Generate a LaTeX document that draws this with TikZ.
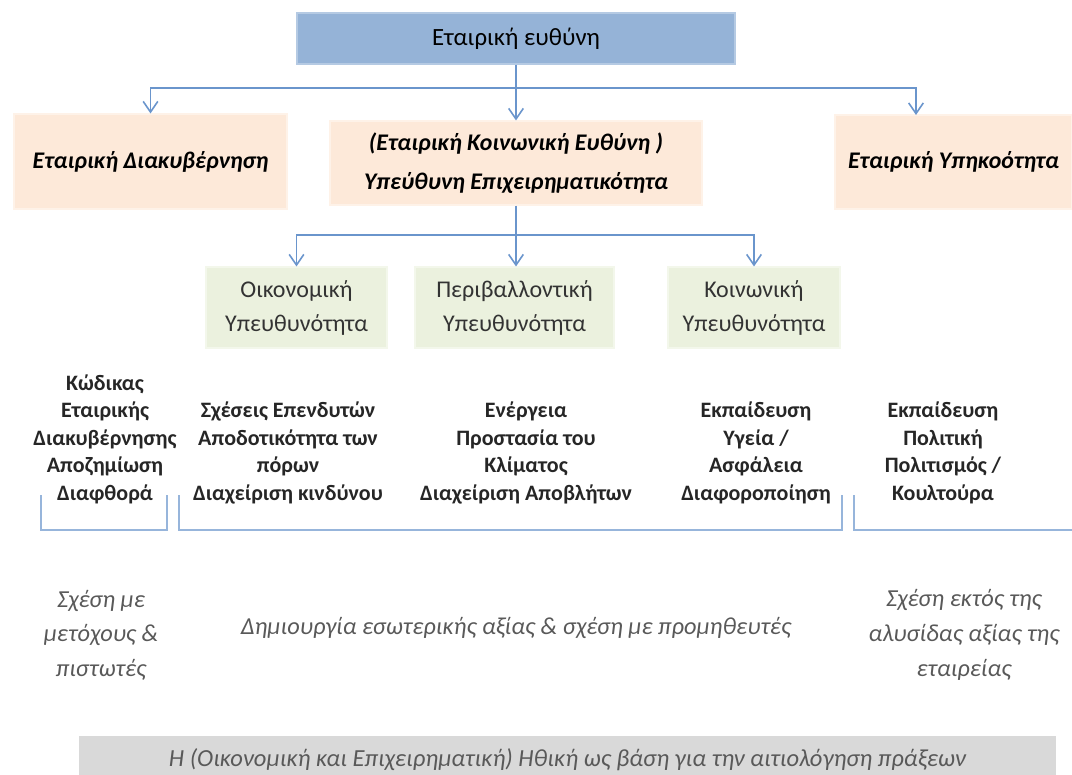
\documentclass[tikz,border=0pt]{standalone}
\usepackage{fontspec}
\setmainfont{Carlito}
\usetikzlibrary{arrows.meta}

\definecolor{rootblue}{HTML}{95B3D7}
\definecolor{linkblue}{HTML}{6A95CC}
\definecolor{peach}{HTML}{FDE9D9}
\definecolor{sage}{HTML}{EBF1DE}
\definecolor{stone}{HTML}{D9D9D9}
\definecolor{notegray}{HTML}{595959}

\tikzset{
  rootbox/.style={fill=rootblue, draw=rootblue!70!white, line width=0.8pt,
    minimum width=328.5pt, minimum height=38.25pt,
    font=\fontsize{18.6}{22}\selectfont},
  peachbox/.style={fill=peach, draw=peach!60!white, line width=0.8pt, align=center,
    font=\fontsize{17.9}{29}\selectfont\bfseries\itshape},
  sagebox/.style={fill=sage, draw=sage!60!white, line width=0.8pt, align=center,
    minimum height=60.75pt, text=black!80,
    font=\fontsize{18}{25.5}\selectfont},
  detail/.style={align=center, text=black!85,
    font=\fontsize{16.5}{20.6}\selectfont\bfseries},
  note/.style={align=center, text=notegray,
    font=\fontsize{18.3}{26}\selectfont\itshape},
  link/.style={draw=linkblue, line width=1.2pt},
  tip/.style={-{Straight Barb[length=8pt,width=11pt]}},
  bracket/.style={draw=linkblue!70!white, line width=1.2pt}
}

\begin{document}
\begin{tikzpicture}[x=0.75pt, y=-0.75pt]
\useasboundingbox (0,0) rectangle (1072,775);

% top level
\node[rootbox] (root) at (516,38.5) {Εταιρική ευθύνη};

\node[peachbox, minimum width=204.75pt, minimum height=71.25pt] (gov) at (150.5,161.5)
  {Εταιρική Διακυβέρνηση};
\node[peachbox, minimum width=279pt, minimum height=63pt] (csr) at (516,163)
  {(Εταιρική Κοινωνική Ευθύνη )\\Υπεύθυνη Επιχειρηματικότητα};
\node[peachbox, minimum width=177.75pt, minimum height=70.5pt] (comp) at (953.5,162)
  {Εταιρική Υπηκοότητα};

\coordinate (hub) at (516,88);
\coordinate (compin) at (916,115);
\draw[link] (root.south) -- (hub);
\draw[link, tip] (hub) -| (gov.north);
\draw[link, tip] (hub) -- (csr.north);
\draw[link, tip] (hub) -| (compin);

% three responsibilities
\node[sagebox, minimum width=135.75pt] (econ) at (296.5,307.5) {Οικονομική\\Υπευθυνότητα};
\node[sagebox, minimum width=149.25pt] (env) at (514.5,307.5) {Περιβαλλοντική\\Υπευθυνότητα};
\node[sagebox, minimum width=129pt] (soc) at (754,307.5) {Κοινωνική\\Υπευθυνότητα};

\coordinate (hub2) at (516,235);
\draw[link] (csr.south) -- (hub2);
\draw[link, tip] (hub2) -| (econ.north);
\draw[link, tip] (hub2) -- (hub2 |- env.north);
\draw[link, tip] (hub2) -| (soc.north);

% issues
\node[detail] (codex) at (105,439) {Κώδικας\\Εταιρικής\\Διακυβέρνησης\\Αποζημίωση\\Διαφθορά};
\node[detail] (invest) at (288,453) {Σχέσεις Επενδυτών\\Αποδοτικότητα των\\πόρων\\Διαχείριση κινδύνου};
\node[detail] (energy) at (526,453) {Ενέργεια\\Προστασία του\\Κλίματος\\Διαχείριση Αποβλήτων};
\node[detail] (train) at (756,453) {Εκπαίδευση\\Υγεία /\\Ασφάλεια\\Διαφοροποίηση};
\node[detail] (culture) at (943,453) {Εκπαίδευση\\Πολιτική\\Πολιτισμός /\\Κουλτούρα};

\draw[bracket] (41,495) |- (167,530) -- (167,495);
\draw[bracket] (179,495) |- (842,530) -- (842,495);
\draw[bracket] (854,495) |- (1072,530);

% relations
\node[note] (share) at (101,635) {Σχέση με\\μετόχους \&\\πιστωτές};
\node[note] (inner) at (516,628) {Δημιουργία εσωτερικής αξίας \& σχέση με προμηθευτές};
\node[note] (outer) at (964,635) {Σχέση εκτός της\\αλυσίδας αξίας της\\εταιρείας};

% ethics base
\node[fill=stone, minimum width=732.75pt, minimum height=36pt, text=notegray,
  font=\fontsize{18.4}{21}\selectfont\itshape] (ethics) at (567.5,760)
  {Η (Οικονομική και Επιχειρηματική) Ηθική ως βάση για την αιτιολόγηση πράξεων};
\end{tikzpicture}
\end{document}
